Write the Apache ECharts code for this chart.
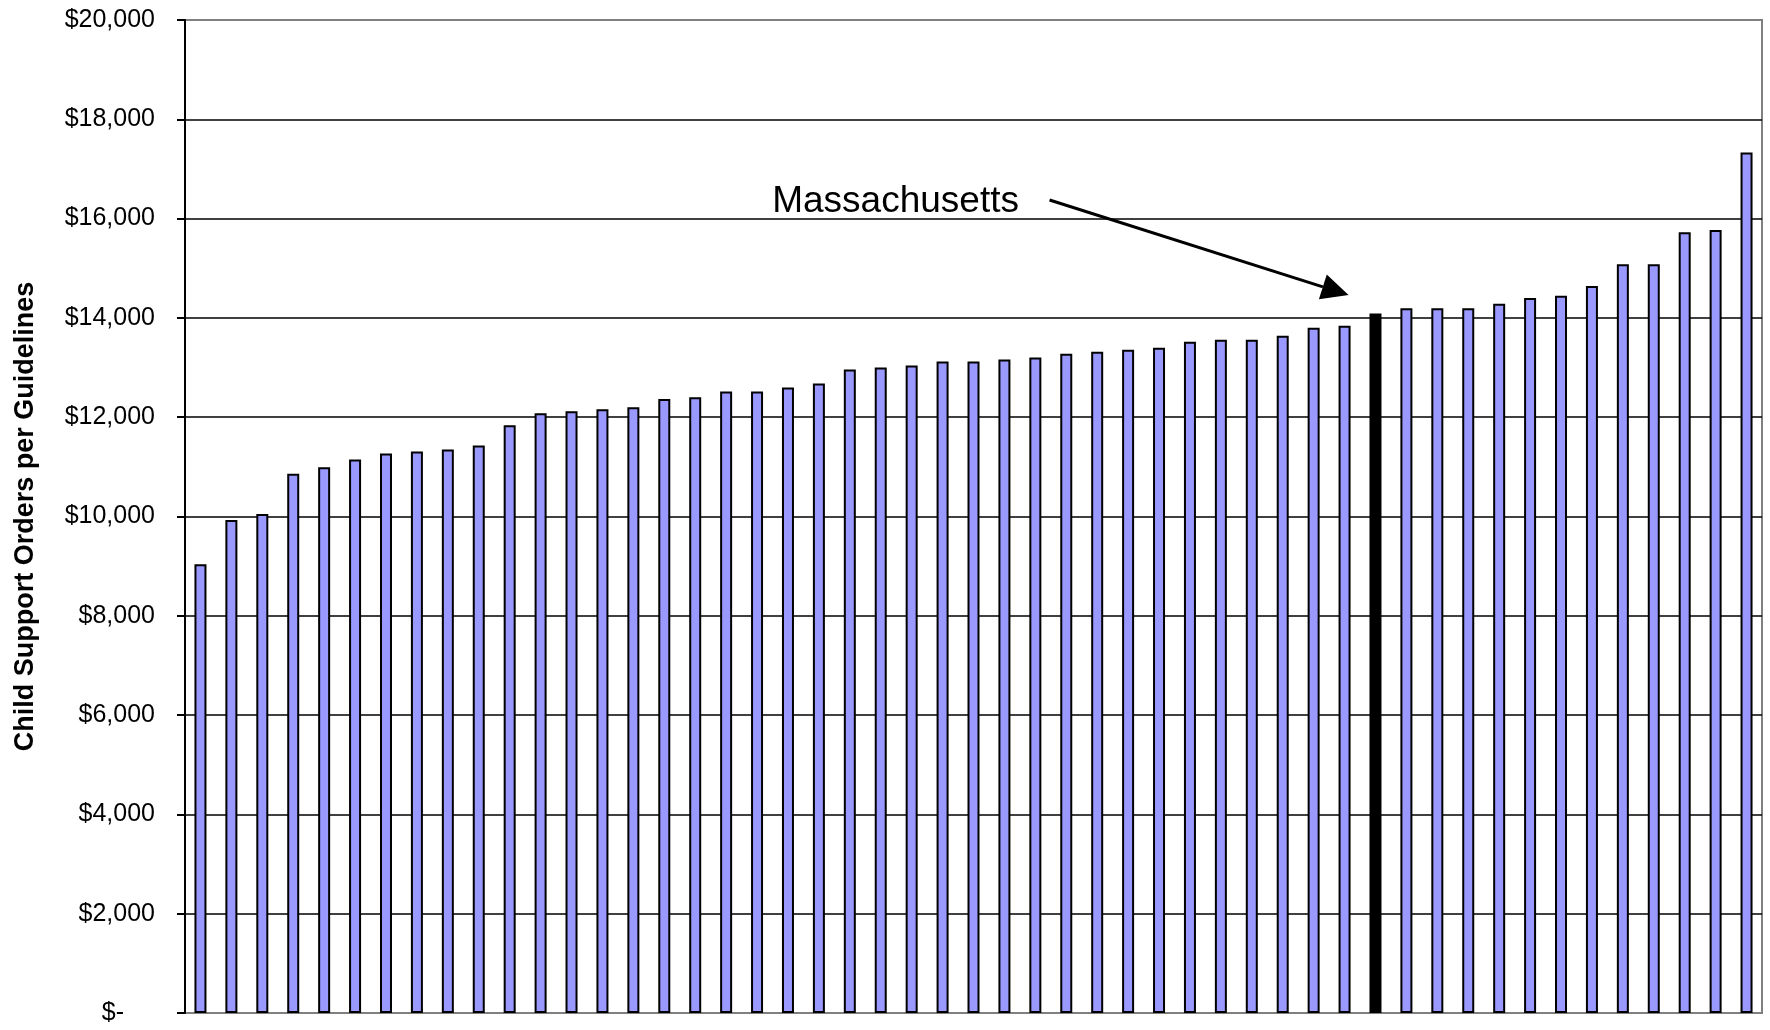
<!DOCTYPE html>
<html><head><meta charset="utf-8">
<script src="https://cdn.jsdelivr.net/npm/echarts@6/dist/echarts.min.js"></script>
<style>html,body{margin:0;padding:0;background:#fff}#c{width:1770px;height:1030px}</style>
</head><body><div id="c"></div>
<script>
const categories = ['1','2','3','4','5','6','7','8','9','10','11','12','13','14','15','16','17','18','19','20','21','22','23','24','25','26','27','28','29','30','31','32','33','34','35','36','37','38','39','40','41','42','43','44','45','46','47','48','49','50','51'];
const orderValues = [9040, 9930, 10050, 10860, 10990, 11150, 11270, 11310, 11350, 11430, 11840, 12080, 12120, 12160, 12200, 12365, 12400, 12520, 12520, 12600, 12680, 12960, 13000, 13040, 13120, 13120, 13160, 13200, 13280, 13320, 13360, 13400, 13520, 13560, 13560, 13640, 13800, 13840, 14090, 14195, 14195, 14195, 14285, 14400, 14445, 14645, 15080, 15080, 15725, 15770, 17330];
const highlightIndex = 38;
const annotationText = 'Massachusetts';
const axisTitle = 'Child Support Orders per Guidelines';
// annotation anchors in data space: [category position, value]
const textAnchor = [18.49, 16345];
const arrowStart = [27.46, 16375];
const arrowTip = [37.13, 14461];

const FONT = "'Liberation Sans', Arial, sans-serif";
const chart = echarts.init(document.getElementById('c'), null, {renderer: 'canvas'});
chart.setOption({
  animation: false,
  backgroundColor: '#fff',
  grid: {left: 185, right: 8, top: 20, bottom: 17, show: true, borderColor: '#808080', borderWidth: 2, backgroundColor: 'transparent'},
  xAxis: {
    type: 'category', data: categories, boundaryGap: true,
    axisLine: {show: false}, axisTick: {show: false}, axisLabel: {show: false}, splitLine: {show: false}
  },
  yAxis: {
    type: 'value', min: 0, max: 20000, interval: 2000,
    name: axisTitle, nameLocation: 'middle', nameGap: 146,
    nameTextStyle: {fontFamily: FONT, fontWeight: 'bold', fontSize: 27, color: '#000'},
    axisLine: {show: true, lineStyle: {color: '#000', width: 2}},
    axisTick: {show: true, inside: false, length: 8, lineStyle: {color: '#000', width: 2}},
    axisLabel: {
      margin: 30, fontFamily: FONT, fontSize: 25, color: '#000',
      formatter: function (v) { return v === 0 ? '{z|$-}' : '$' + v.toLocaleString('en-US'); },
      rich: {z: {fontFamily: FONT, fontSize: 25, color: '#000', padding: [0, 31, 0, 0]}}
    },
    splitLine: {show: true, showMinLine: false, showMaxLine: false, lineStyle: {color: '#000', width: 1.5}}
  },
  series: [{
    type: 'bar',
    barWidth: 12,
    itemStyle: {color: '#9999FF', borderColor: '#000', borderWidth: 2},
    data: orderValues.map(function (v, i) {
      return i === highlightIndex ? {value: v, itemStyle: {color: '#000'}} : v;
    })
  }]
});

function px(p) {
  const i0 = Math.floor(p[0]);
  const a = chart.convertToPixel({seriesIndex: 0}, [i0, p[1]]);
  const b = chart.convertToPixel({seriesIndex: 0}, [i0 + 1, p[1]]);
  const t = p[0] - i0;
  return [a[0] + (b[0] - a[0]) * t, a[1]];
}
const tp = px(textAnchor), s = px(arrowStart), e = px(arrowTip);
const dx = e[0] - s[0], dy = e[1] - s[1], L = Math.sqrt(dx * dx + dy * dy);
const ux = dx / L, uy = dy / L, nx = -uy, ny = ux;
const headLen = 27, headHalf = 13;
const bc = [e[0] - ux * headLen, e[1] - uy * headLen];
chart.setOption({
  graphic: [
    {type: 'text', x: tp[0], y: tp[1], z: 100,
     style: {text: annotationText, fontFamily: FONT, fontSize: 37, fill: '#000', align: 'left', verticalAlign: 'middle'}},
    {type: 'polyline', z: 100, shape: {points: [s, bc]}, style: {stroke: '#000', lineWidth: 3}},
    {type: 'polygon', z: 100, shape: {points: [e, [bc[0] + nx * headHalf, bc[1] + ny * headHalf], [bc[0] - nx * headHalf, bc[1] - ny * headHalf]]}, style: {fill: '#000'}}
  ]
});
</script></body></html>
